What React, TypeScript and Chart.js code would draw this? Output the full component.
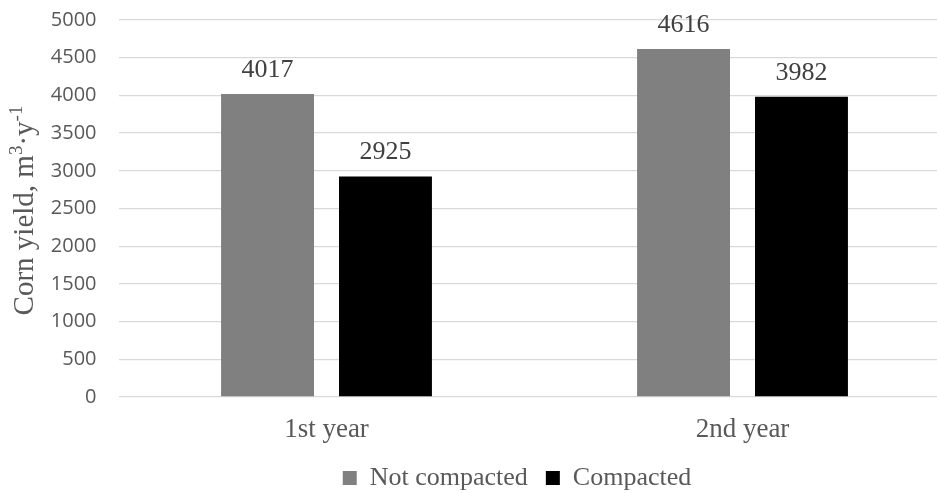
import React, { useEffect, useRef } from "react";
import { Chart, registerables } from "chart.js";

Chart.register(...registerables);

const categories = ["1st year", "2nd year"];
const seriesNames = ["Not compacted", "Compacted"];
const notCompacted = [4017, 4616];
const compacted = [2925, 3982];
const seriesColors = ["#808080", "#000000"];
const yMin = 0;
const yMax = 5000;
const yStep = 500;
const yTitleParts = [
  { text: "Corn yield, m", sup: false },
  { text: "3", sup: true },
  { text: "·y", sup: false },
  { text: "-1", sup: true },
];

const SERIF = "'Liberation Serif', 'Times New Roman', serif";

const valueLabels = {
  id: "valueLabels",
  afterDatasetsDraw(chart: any) {
    const ctx = chart.ctx;
    ctx.save();
    ctx.font = `26px ${SERIF}`;
    ctx.fillStyle = "#404040";
    ctx.textAlign = "center";
    ctx.textBaseline = "alphabetic";
    chart.data.datasets.forEach((ds: any, i: number) => {
      const meta = chart.getDatasetMeta(i);
      meta.data.forEach((bar: any, j: number) => {
        ctx.fillText(String(ds.data[j]), bar.x, bar.y - 17);
      });
    });
    ctx.restore();
  },
};

const yAxisTitle = {
  id: "yAxisTitle",
  afterDraw(chart: any) {
    const ctx = chart.ctx;
    const area = chart.chartArea;
    const mainFont = `29px ${SERIF}`;
    const supFont = `19px ${SERIF}`;
    ctx.save();
    let total = 0;
    const widths = yTitleParts.map((p) => {
      ctx.font = p.sup ? supFont : mainFont;
      const w = ctx.measureText(p.text).width;
      total += w;
      return w;
    });
    const cy = (area.top + area.bottom) / 2 + 2;
    ctx.translate(33, cy);
    ctx.rotate(-Math.PI / 2);
    ctx.fillStyle = "#595959";
    ctx.textBaseline = "alphabetic";
    ctx.textAlign = "left";
    let x = -total / 2;
    yTitleParts.forEach((p, i) => {
      ctx.font = p.sup ? supFont : mainFont;
      ctx.fillText(p.text, x, p.sup ? -11 : 0);
      x += widths[i];
    });
    ctx.restore();
  },
};

export default function App() {
  const ref = useRef<HTMLCanvasElement | null>(null);

  useEffect(() => {
    if (!ref.current) return;
    const chart = new Chart(ref.current, {
      type: "bar",
      data: {
        labels: categories,
        datasets: [
          {
            label: seriesNames[0],
            data: notCompacted,
            backgroundColor: seriesColors[0],
            categoryPercentage: 0.567,
            barPercentage: 0.788,
          },
          {
            label: seriesNames[1],
            data: compacted,
            backgroundColor: seriesColors[1],
            categoryPercentage: 0.567,
            barPercentage: 0.788,
          },
        ],
      },
      options: {
        animation: false,
        responsive: true,
        maintainAspectRatio: false,
        layout: { padding: { top: 20, left: 0, right: 0, bottom: 0 } },
        plugins: {
          tooltip: { enabled: false },
          legend: {
            position: "bottom",
            labels: {
              boxWidth: 14,
              boxHeight: 14,
              padding: 18,
              color: "#595959",
              font: { family: SERIF, size: 26 },
            },
          },
        },
        scales: {
          x: {
            grid: { display: false, drawTicks: false },
            border: { display: false },
            ticks: {
              padding: 17,
              color: "#595959",
              font: { family: SERIF, size: 27 },
            },
            afterFit(s: any) {
              s.height = 50;
            },
          },
          y: {
            min: yMin,
            max: yMax,
            ticks: {
              stepSize: yStep,
              padding: 0,
              color: "#595959",
              font: { family: "'Open Sans', sans-serif", size: 20 },
              callback: (v: any) => String(v),
            },
            grid: {
              color: "#d9d9d9",
              lineWidth: 1.3,
              drawTicks: true,
              tickLength: 22,
              tickColor: "rgba(0,0,0,0)",
            },
            border: { display: false },
            afterFit(s: any) {
              s.width = 118.5;
            },
          },
          y2: {
            type: "linear",
            position: "right",
            display: true,
            grid: { display: false, drawTicks: false },
            ticks: { display: false },
            border: { display: false },
            afterFit(s: any) {
              s.width = 83.5;
            },
          },
        },
      } as any,
      plugins: [valueLabels, yAxisTitle],
    });
    return () => chart.destroy();
  }, []);

  return (
    <div
      style={{
        position: "fixed",
        left: 0,
        top: 0,
        width: 937,
        height: 493,
        overflow: "hidden",
        background: "#ffffff",
      }}
    >
      <div style={{ position: "relative", width: 1034, height: 501 }}>
        <canvas ref={ref} />
      </div>
    </div>
  );
}
